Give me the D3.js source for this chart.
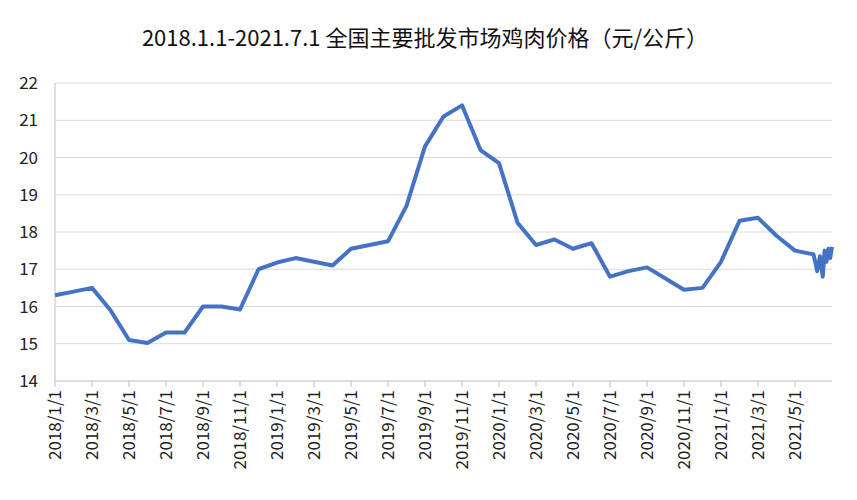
<!DOCTYPE html>
<html><head><meta charset="utf-8">
<script src="https://cdn.jsdelivr.net/npm/d3@7"></script>
<style>body{margin:0;background:#fff}svg{font-family:"Noto Sans CJK SC","Liberation Sans",sans-serif}</style>
</head><body><div id="chart"></div>
<script>
// month index from 2018/1/1; fractional values are the weekly readings at the end
const months = [0,1,2,3,4,5,6,7,8,9,10,11,12,13,14,15,16,17,18,19,20,21,22,23,24,25,26,27,28,29,30,31,32,33,34,35,36,37,38,39,40,41,41.2,41.35,41.5,41.6,41.7,41.8,41.9,42];
const prices = [16.3,16.4,16.5,15.9,15.1,15.02,15.3,15.3,16.0,16.0,15.92,17.0,17.18,17.3,17.2,17.1,17.55,17.65,17.75,18.7,20.3,21.1,21.4,20.2,19.85,18.25,17.65,17.8,17.55,17.7,16.8,16.95,17.05,16.75,16.45,16.5,17.2,18.3,18.38,17.9,17.5,17.4,16.95,17.35,16.8,17.5,17.2,17.55,17.3,17.6];
const tickMonths = d3.range(0, 42, 2);
const tickLabels = ["2018/1/1","2018/3/1","2018/5/1","2018/7/1","2018/9/1","2018/11/1","2019/1/1","2019/3/1","2019/5/1","2019/7/1","2019/9/1","2019/11/1","2020/1/1","2020/3/1","2020/5/1","2020/7/1","2020/9/1","2020/11/1","2021/1/1","2021/3/1","2021/5/1"];
const yTicks = [14,15,16,17,18,19,20,21,22];

const width = 857, height = 500;
const svg = d3.select("#chart").append("svg").attr("width", width).attr("height", height);
const x = d3.scaleLinear().domain([0, 42]).range([55, 832]);
const y = d3.scaleLinear().domain([14, 22]).range([381, 83]);

svg.append("text").attr("x", 425).attr("y", 46).attr("text-anchor", "middle")
    .attr("font-size", 22).attr("fill", "#111").text("2018.1.1-2021.7.1 全国主要批发市场鸡肉价格（元/公斤）");

// gridlines
svg.append("g").selectAll("line").data(yTicks.slice(1)).enter().append("line")
    .attr("x1", 55).attr("x2", 832).attr("y1", d => y(d)).attr("y2", d => y(d))
    .attr("stroke", "#d9d9d9");

svg.append("g").selectAll("text").data(yTicks).enter().append("text")
    .attr("x", 38).attr("y", d => y(d) + 6).attr("text-anchor", "end")
    .attr("font-size", 17).attr("fill", "#222").text(d => d);

// axes lines
svg.append("line").attr("x1", 55).attr("x2", 55).attr("y1", 83).attr("y2", 381).attr("stroke", "#bfbfbf");
svg.append("line").attr("x1", 55).attr("x2", 832).attr("y1", 381).attr("y2", 381).attr("stroke", "#bfbfbf");
svg.append("g").selectAll("line").data(tickMonths).enter().append("line")
    .attr("x1", d => x(d)).attr("x2", d => x(d)).attr("y1", 381).attr("y2", 387).attr("stroke", "#bfbfbf");

svg.append("g").selectAll("text").data(tickMonths).enter().append("text")
    .attr("transform", d => `translate(${x(d) + 6},390) rotate(-90)`)
    .attr("text-anchor", "end").attr("font-size", 17).attr("fill", "#222")
    .text((d, i) => tickLabels[i]);

const line = d3.line().x((d, i) => x(months[i])).y(d => y(d));
svg.append("path").datum(prices).attr("d", line).attr("fill", "none")
    .attr("stroke", "#4472c4").attr("stroke-width", 4).attr("stroke-linejoin", "round");
</script></body></html>
